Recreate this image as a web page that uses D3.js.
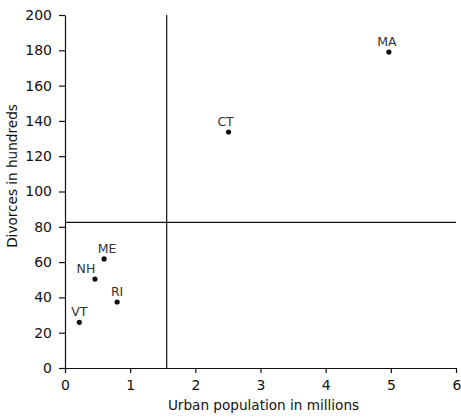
<!DOCTYPE html>
<html>
<head>
<meta charset="utf-8">
<script src="https://cdn.jsdelivr.net/npm/d3@7"></script>
<style>
  body { margin: 0; background: #fff; }
  svg { display: block; font-family: "DejaVu Sans", sans-serif; }
  .tick text { font-size: 14px; fill: #111; font-family: "DejaVu Sans", sans-serif; }
  .axisTitle { font-size: 13.6px; fill: #111; }
  .ptLabel { font-size: 12.5px; fill: #333; }
</style>
</head>
<body>
<div id="chart"></div>
<script>
// states, urban population (millions), divorces (hundreds)
var states = ["MA", "CT", "ME", "NH", "RI", "VT"];
var urbanPop = [4.97, 2.51, 0.60, 0.46, 0.80, 0.22];
var divorces = [179, 133.7, 61.8, 50.4, 37.4, 25.9];
// label nudges (px) so text sits like the original
var labelDx = [-2, -3, 3, -9, 0, 0];

var meanX = 1.56, meanY = 82.5;
var xTicks = [0, 1, 2, 3, 4, 5, 6];
var yTicks = [0, 20, 40, 60, 80, 100, 120, 140, 160, 180, 200];

var W = 461, H = 420;
var margin = { top: 15, right: 5, bottom: 52, left: 65 };

var svg = d3.select("#chart").append("svg")
  .attr("width", W).attr("height", H);

var x = d3.scaleLinear().domain([0, 6]).range([margin.left, W - margin.right]);
var y = d3.scaleLinear().domain([0, 200]).range([H - margin.bottom, margin.top]);

var xAxis = svg.append("g")
  .attr("transform", "translate(0," + y(0) + ")")
  .call(d3.axisBottom(x).tickValues(xTicks).tickFormat(d3.format("d"))
    .tickSize(5).tickPadding(7).tickSizeOuter(0));
var yAxis = svg.append("g")
  .attr("transform", "translate(" + x(0) + ",0)")
  .call(d3.axisLeft(y).tickValues(yTicks).tickFormat(d3.format("d"))
    .tickSize(6).tickPadding(7).tickSizeOuter(0));

[xAxis, yAxis].forEach(function(a) {
  a.select(".domain").attr("stroke", "#111").attr("stroke-width", 1.2);
  a.selectAll(".tick line").attr("stroke", "#111").attr("stroke-width", 1.2);
});
xAxis.selectAll(".tick:last-of-type text").attr("text-anchor", "end").attr("dx", "0.35em");

// mean lines
svg.append("line")
  .attr("x1", x(meanX)).attr("x2", x(meanX))
  .attr("y1", y(200)).attr("y2", y(0))
  .attr("stroke", "#111").attr("stroke-width", 1.2);
svg.append("line")
  .attr("x1", x(0)).attr("x2", x(6))
  .attr("y1", y(meanY)).attr("y2", y(meanY))
  .attr("stroke", "#111").attr("stroke-width", 1.2);

var pts = states.map(function(s, i) {
  return { name: s, x: urbanPop[i], y: divorces[i], dx: labelDx[i] };
});

svg.selectAll(".dot")
  .data(pts)
  .enter().append("circle")
  .attr("class", "dot")
  .attr("cx", function(d) { return x(d.x); })
  .attr("cy", function(d) { return y(d.y); })
  .attr("r", 2.6)
  .attr("fill", "#111");

svg.selectAll(".ptLabel")
  .data(pts)
  .enter().append("text")
  .attr("class", "ptLabel")
  .attr("x", function(d) { return x(d.x) + d.dx; })
  .attr("y", function(d) { return y(d.y) - 6; })
  .attr("text-anchor", "middle")
  .text(function(d) { return d.name; });

svg.append("text")
  .attr("class", "axisTitle")
  .attr("x", (x(0) + x(6)) / 2 + 3)
  .attr("y", 410)
  .attr("text-anchor", "middle")
  .text("Urban population in millions");

svg.append("text")
  .attr("class", "axisTitle")
  .attr("transform", "translate(17,176) rotate(-90)")
  .attr("text-anchor", "middle")
  .text("Divorces in hundreds");
</script>
</body>
</html>
